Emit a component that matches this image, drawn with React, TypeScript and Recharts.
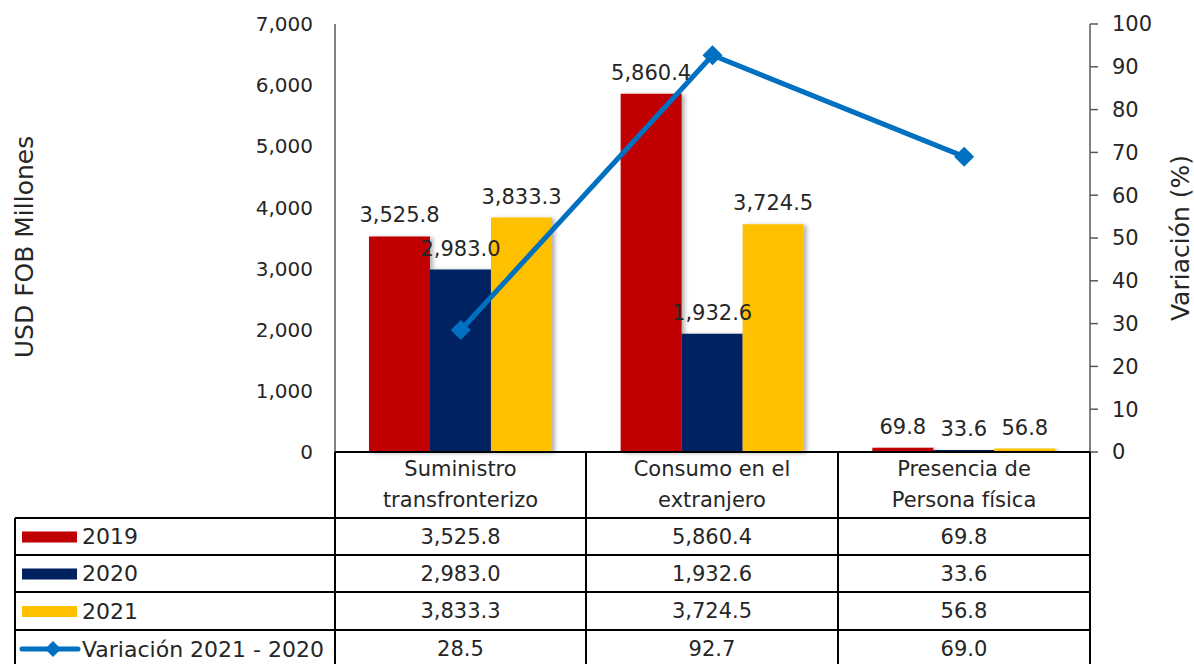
import { ComposedChart, Bar, Line, XAxis, YAxis, LabelList } from "recharts"

const categories = ["Suministro transfronterizo", "Consumo en el extranjero", "Presencia de Persona física"]
const categoryLines = [
  ["Suministro", "transfronterizo"],
  ["Consumo en el", "extranjero"],
  ["Presencia de", "Persona física"],
]
const values2019 = [3525.8, 5860.4, 69.8]
const values2020 = [2983.0, 1932.6, 33.6]
const values2021 = [3833.3, 3724.5, 56.8]
const variacion = [28.5, 92.7, 69.0]
const leftTicks = [0, 1000, 2000, 3000, 4000, 5000, 6000, 7000]
const rightTicks = [0, 10, 20, 30, 40, 50, 60, 70, 80, 90, 100]

const W = 1194
const H = 664
const PLOT_L = 335
const PLOT_R = 1090
const PLOT_T = 24
const PLOT_B = 452
const FONT = "'DejaVu Sans', sans-serif"
const TEXT = "#262626"

const RED = "#C00000"
const NAVY = "#002060"
const GOLD = "#FFC000"
const BLUE = "#0070C0"

const data = categories.map((name, i) => ({
  name,
  y2019: values2019[i],
  y2020: values2020[i],
  y2021: values2021[i],
  variacion: variacion[i],
}))

const fmt = (v: number) => v.toLocaleString("en-US", { minimumFractionDigits: 1, maximumFractionDigits: 1 })
const fmtTick = (v: number) => v.toLocaleString("en-US")

const Diamond = (props: any) => {
  const { cx, cy } = props
  if (cx == null || cy == null) return null
  const r = 10
  return <polygon points={`${cx},${cy - r} ${cx + r},${cy} ${cx},${cy + r} ${cx - r},${cy}`} fill={BLUE} />
}

const LEFT_AXIS_W = 80
const RIGHT_AXIS_W = 60

const rowEdges = [518, 555, 592, 630, 668]
const colEdges = [PLOT_L, 586, 838, PLOT_R]
const colCenters = [0, 1, 2].map((i) => (colEdges[i] + colEdges[i + 1]) / 2)

const tableRows = [
  { label: "2019", values: values2019.map(fmt), color: RED, kind: "bar" },
  { label: "2020", values: values2020.map(fmt), color: NAVY, kind: "bar" },
  { label: "2021", values: values2021.map(fmt), color: GOLD, kind: "bar" },
  { label: "Variación 2021 - 2020", values: variacion.map(fmt), color: BLUE, kind: "line" },
]

function DataTable() {
  return (
    <svg width={W} height={H} style={{ position: "absolute", left: 0, top: 0, pointerEvents: "none" }} fontFamily={FONT}>
      {/* header cells */}
      <line x1={PLOT_L} x2={PLOT_R} y1={PLOT_B} y2={PLOT_B} stroke="#000" strokeWidth={2} />
      {colEdges.map((x) => (
        <line key={x} x1={x} x2={x} y1={PLOT_B} y2={H} stroke="#000" strokeWidth={2} />
      ))}
      {categoryLines.map((lines, i) => (
        <text key={i} x={colCenters[i]} textAnchor="middle" fontSize={21} fill={TEXT}>
          <tspan x={colCenters[i]} y={476}>{lines[0]}</tspan>
          <tspan x={colCenters[i]} y={507}>{lines[1]}</tspan>
        </text>
      ))}
      {/* body rows */}
      {rowEdges.map((y) => (
        <line key={y} x1={15} x2={PLOT_R} y1={y} y2={y} stroke="#000" strokeWidth={2} />
      ))}
      <line x1={15} x2={15} y1={rowEdges[0]} y2={H} stroke="#000" strokeWidth={2} />
      {tableRows.map((row, r) => {
        const cy = (rowEdges[r] + rowEdges[r + 1]) / 2
        return (
          <g key={row.label}>
            {row.kind === "bar" ? (
              <rect x={22} y={cy - 5} width={55} height={11} fill={row.color} />
            ) : (
              <g>
                <line x1={22} x2={78} y1={cy} y2={cy} stroke={row.color} strokeWidth={5} strokeLinecap="round" />
                <polygon points={`53,${cy - 8} 61,${cy} 53,${cy + 8} 45,${cy}`} fill={row.color} />
              </g>
            )}
            <text x={82} y={cy} dominantBaseline="central" fontSize={22} fill={TEXT}>
              {row.label}
            </text>
            {row.values.map((v, i) => (
              <text key={i} x={colCenters[i]} y={cy} textAnchor="middle" dominantBaseline="central" fontSize={21} fill={TEXT}>
                {v}
              </text>
            ))}
          </g>
        )
      })}
      {/* axis titles */}
      <text x={24} y={247} transform="rotate(-90 24 247)" textAnchor="middle" dominantBaseline="central" fontSize={25} fill={TEXT}>
        USD FOB Millones
      </text>
      <text x={1180} y={238} transform="rotate(-90 1180 238)" textAnchor="middle" dominantBaseline="central" fontSize={25} fill={TEXT}>
        Variación (%)
      </text>
    </svg>
  )
}

export default function App() {
  return (
    <div style={{ position: "absolute", left: 0, top: 0, width: W, height: H, background: "#fff", fontFamily: FONT }}>
      <ComposedChart
        width={W}
        height={H}
        data={data}
        margin={{ top: PLOT_T, bottom: H - PLOT_B, left: PLOT_L - LEFT_AXIS_W, right: W - PLOT_R - RIGHT_AXIS_W }}
        barCategoryGap="13.5%"
        barGap={0}
      >
        <defs>
          <filter id="barShadow" x="-10%" y="-10%" width="130%" height="120%">
            <feDropShadow dx={3} dy={1} stdDeviation={2} floodColor="#000" floodOpacity={0.3} />
          </filter>
        </defs>
        <XAxis dataKey="name" hide />
        <YAxis
          yAxisId="left"
          width={LEFT_AXIS_W}
          domain={[0, 7000]}
          ticks={leftTicks}
          tickFormatter={fmtTick}
          tickLine={false}
          tickSize={0}
          tickMargin={22}
          axisLine={{ stroke: "#595959", strokeWidth: 1.5 }}
          tick={{ fontSize: 20, fill: TEXT, fontFamily: FONT }}
          interval={0}
        />
        <YAxis
          yAxisId="right"
          orientation="right"
          width={RIGHT_AXIS_W}
          domain={[0, 100]}
          ticks={rightTicks}
          tickSize={8}
          tickMargin={14}
          tickLine={{ stroke: "#595959", strokeWidth: 1.5 }}
          axisLine={{ stroke: "#595959", strokeWidth: 1.5 }}
          tick={{ fontSize: 21, fill: TEXT, fontFamily: FONT, textAnchor: "start" }}
          interval={0}
        />
        <Bar yAxisId="left" dataKey="y2019" fill={RED} filter="url(#barShadow)" isAnimationActive={false}>
          <LabelList dataKey="y2019" position="top" offset={14} formatter={(v: any) => fmt(Number(v))} fill={TEXT} fontSize={21} fontFamily={FONT} />
        </Bar>
        <Bar yAxisId="left" dataKey="y2020" fill={NAVY} filter="url(#barShadow)" isAnimationActive={false}>
          <LabelList dataKey="y2020" position="top" offset={14} formatter={(v: any) => fmt(Number(v))} fill={TEXT} fontSize={21} fontFamily={FONT} />
        </Bar>
        <Bar yAxisId="left" dataKey="y2021" fill={GOLD} filter="url(#barShadow)" isAnimationActive={false}>
          <LabelList dataKey="y2021" position="top" offset={14} formatter={(v: any) => fmt(Number(v))} fill={TEXT} fontSize={21} fontFamily={FONT} />
        </Bar>
        <Line
          yAxisId="right"
          dataKey="variacion"
          stroke={BLUE}
          strokeWidth={5}
          dot={<Diamond />}
          activeDot={false}
          isAnimationActive={false}
        />
      </ComposedChart>
      <DataTable />
    </div>
  )
}
